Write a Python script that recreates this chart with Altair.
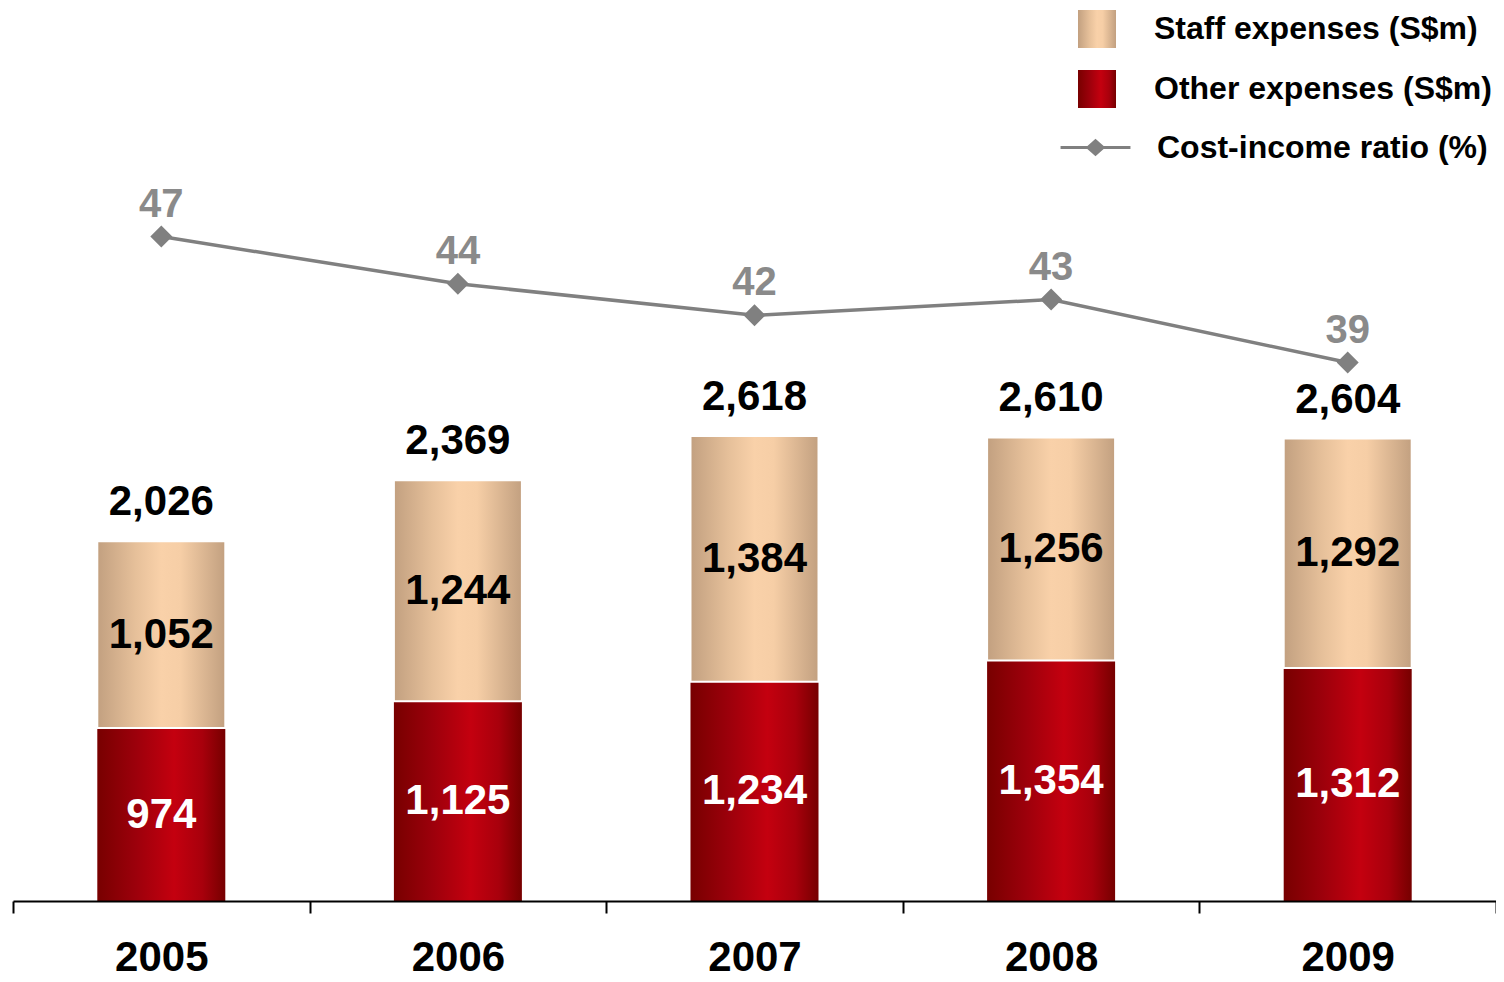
import altair as alt
import pandas as pd

# ---- data ----
years = ["2005", "2006", "2007", "2008", "2009"]
other_expenses = [974, 1125, 1234, 1354, 1312]
staff_expenses = [1052, 1244, 1384, 1256, 1292]
cost_income_ratio = [47, 44, 42, 43, 39]
bar_series = ["Staff expenses (S$m)", "Other expenses (S$m)"]
line_series = ["Cost-income ratio (%)"]

FONT = "Liberation Sans"
GRAY = "#808080"
LABEL_GRAY = "#8a8a8a"

red_stops = [("#780000", 0.0), ("#9c000b", 0.3), ("#c4000f", 0.6), ("#a8000c", 0.82), ("#760000", 1.0)]
tan_stops = [("#c2a080", 0.0), ("#e6c09a", 0.3), ("#f9d1a9", 0.5), ("#f6cea6", 0.65), ("#c2a080", 1.0)]


def grad_expr(stops):
    s = ", ".join(f"{{offset: {o}, color: '{c}'}}" for c, o in stops)
    return alt.ExprRef(expr=f"{{gradient: 'linear', x1: 0, y1: 0, x2: 1, y2: 0, stops: [{s}]}}")


df = pd.DataFrame({
    "year": years,
    "other": other_expenses,
    "staff": staff_expenses,
    "ratio": cost_income_ratio,
})

base = alt.Chart(df).transform_calculate(
    total="datum.other + datum.staff",
    staff_mid="datum.other + datum.staff / 2",
    other_mid="datum.other / 2",
    zero="0",
)

x_enc = alt.X(
    "year:N",
    scale=alt.Scale(paddingInner=0, paddingOuter=0),
    axis=alt.Axis(
        title=None, labelAngle=0, labelFont=FONT, labelFontSize=42,
        labelFontWeight="bold", labelColor="black", labelPadding=24,
        domainColor="black", domainWidth=2, tickColor="black", tickWidth=2,
        tickSize=12, tickBand="extent", grid=False, zindex=1,
    ),
)

ybar = alt.Scale(domain=[0, 5000])
yratio = alt.Scale(domain=[4.8, 61.2])

fill_scale = alt.Scale(domain=bar_series, range=[grad_expr(tan_stops), grad_expr(red_stops)])
bar_legend = alt.Legend(
    title=None, orient="none", legendX=1065, legendY=-3, padding=0,
    symbolType="square", symbolSize=1444, symbolStrokeWidth=0, symbolOpacity=1,
    labelFont=FONT, labelFontSize=32, labelFontWeight="bold", labelColor="black",
    labelOffset=38, rowPadding=22, labelLimit=0,
)

other_bar = base.transform_calculate(series="'Other expenses (S$m)'").mark_bar(size=128).encode(
    x=x_enc,
    y=alt.Y("other:Q", scale=ybar, axis=None),
    y2=alt.Y2("zero:Q"),
    fill=alt.Fill("series:N", scale=fill_scale, legend=bar_legend),
)

staff_bar = base.transform_calculate(series="'Staff expenses (S$m)'").mark_bar(
    size=128, stroke="white", strokeWidth=2
).encode(
    x=x_enc,
    y=alt.Y("other:Q", scale=ybar, axis=None),
    y2=alt.Y2("total:Q"),
    fill=alt.Fill("series:N", scale=fill_scale, legend=bar_legend),
)

txt_kw = dict(font=FONT, fontWeight="bold", fontSize=42)

other_txt = base.mark_text(color="white", baseline="middle", **txt_kw).encode(
    x=x_enc,
    y=alt.Y("other_mid:Q", scale=ybar, axis=None),
    text=alt.Text("other:Q", format=","),
)

staff_txt = base.mark_text(color="black", baseline="middle", **txt_kw).encode(
    x=x_enc,
    y=alt.Y("staff_mid:Q", scale=ybar, axis=None),
    text=alt.Text("staff:Q", format=","),
)

total_txt = base.mark_text(color="black", baseline="alphabetic", dy=-26, **txt_kw).encode(
    x=x_enc,
    y=alt.Y("total:Q", scale=ybar, axis=None),
    text=alt.Text("total:Q", format=","),
)

line_path = "M-1.84,0L1.84,0M-0.4,0L0,-0.36L0.4,0L0,0.36Z"
line_legend = alt.Legend(
    title=None, orient="none", legendX=1062, legendY=114, padding=0,
    symbolType=line_path, symbolSize=1444, symbolStrokeWidth=3,
    symbolFillColor=GRAY, symbolStrokeColor=GRAY, symbolOpacity=1,
    labelFont=FONT, labelFontSize=32, labelFontWeight="bold", labelColor="black",
    labelOffset=41, labelLimit=0,
)

line = base.transform_calculate(line_name="'Cost-income ratio (%)'").mark_line(strokeWidth=3.5).encode(
    x=x_enc,
    y=alt.Y("ratio:Q", scale=yratio, axis=None),
    stroke=alt.Stroke("line_name:N", scale=alt.Scale(domain=line_series, range=[GRAY]), legend=line_legend),
)

points = base.mark_point(shape="diamond", filled=True, color=GRAY, size=484, opacity=1).encode(
    x=x_enc,
    y=alt.Y("ratio:Q", scale=yratio, axis=None),
)

ratio_txt = base.mark_text(color=LABEL_GRAY, baseline="alphabetic", dy=-20, font=FONT,
                           fontWeight="bold", fontSize=40).encode(
    x=x_enc,
    y=alt.Y("ratio:Q", scale=yratio, axis=None),
    text=alt.Text("ratio:Q"),
)

chart = alt.layer(
    other_bar, staff_bar, other_txt, staff_txt, total_txt, line, points, ratio_txt
).resolve_scale(y="independent").properties(
    width=1483, height=888,
    autosize=alt.AutoSizeParams(type="none"),
    padding={"left": 5, "top": 5, "right": 0, "bottom": 73},
).configure_view(stroke=None)

chart.save("out.html", embed_options={"renderer": "svg", "actions": False})
